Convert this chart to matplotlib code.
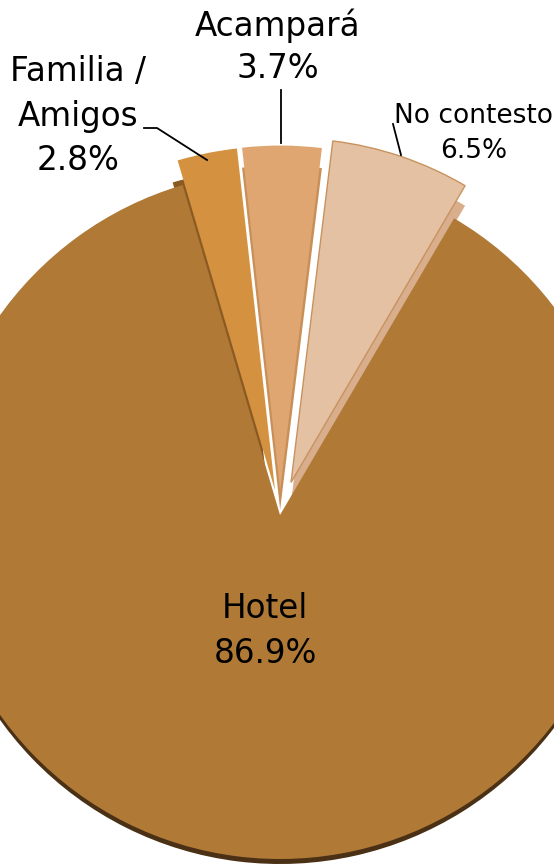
import matplotlib
matplotlib.use("Agg")
import matplotlib.pyplot as plt

# Data (counter-clockwise from the start angle)
categories = ["No contesto", "Acampará", "Familia /\nAmigos", "Hotel"]
values = [6.5, 3.7, 2.8, 86.9]
pct_labels = ["6.5%", "3.7%", "2.8%", "86.9%"]

top_colors = ["#E5C1A4", "#E0A672", "#D4913F", "#B07A36"]
side_colors = ["#D9AE8C", "#C98F58", "#8A5A22", "#4A3014"]
explode_frac = [0.10, 0.074, 0.073, 0.0]

W, H = 554, 866
fig = plt.figure(figsize=(W / 100, H / 100), dpi=100)
ax = fig.add_axes([0, 0, 1, 1])

cx, cy, R = 280, H - 515, 344
start = 59.6
explode = [e * R for e in explode_frac]

# side walls (3D look): shifted copies drawn first
for i, dx, depth in [(3, 0, 5), (0, 0, 20), (1, 0, 20), (2, -5, 22)]:
    wedges, _ = ax.pie(values, explode=explode, startangle=start, radius=R,
                       center=(cx + dx, cy - depth),
                       colors=side_colors, counterclock=True,
                       wedgeprops=dict(linewidth=0))
    for j, w in enumerate(wedges):
        if j != i:
            w.set_visible(False)

# top faces
wedges, _ = ax.pie(values, explode=explode, startangle=start, radius=R,
                   center=(cx, cy), colors=top_colors, counterclock=True,
                   wedgeprops=dict(linewidth=0))
wedges[0].set_edgecolor("#C8925E")
wedges[0].set_linewidth(1.0)

ax.set_xlim(0, W)
ax.set_ylim(0, H)
ax.set_aspect("equal")
ax.axis("off")

font = dict(family="DejaVu Sans", color="black", ha="center", va="baseline",
            multialignment="center")

# labels (y = baseline of the last line)
ax.text(78, H - 170, categories[2] + "\n" + pct_labels[2], fontsize=23.5,
        linespacing=1.44, **font)
ax.text(278, H - 78, categories[1] + "\n" + pct_labels[1], fontsize=23.5,
        linespacing=1.33, **font)
ax.text(474, H - 158, categories[0] + "\n" + pct_labels[0], fontsize=19,
        linespacing=1.47, **font)
ax.text(265, H - 663, categories[3] + "\n" + pct_labels[3], fontsize=23.5,
        linespacing=1.46, **font)

# leader lines
ax.plot([144, 157, 207], [H - 128, H - 128, H - 160], color="black", lw=1.3)
ax.plot([281, 281], [H - 90, H - 143], color="black", lw=1.3)
ax.plot([393, 401], [H - 124, H - 155], color="black", lw=1.3)

fig.savefig("out.png", dpi=100)
